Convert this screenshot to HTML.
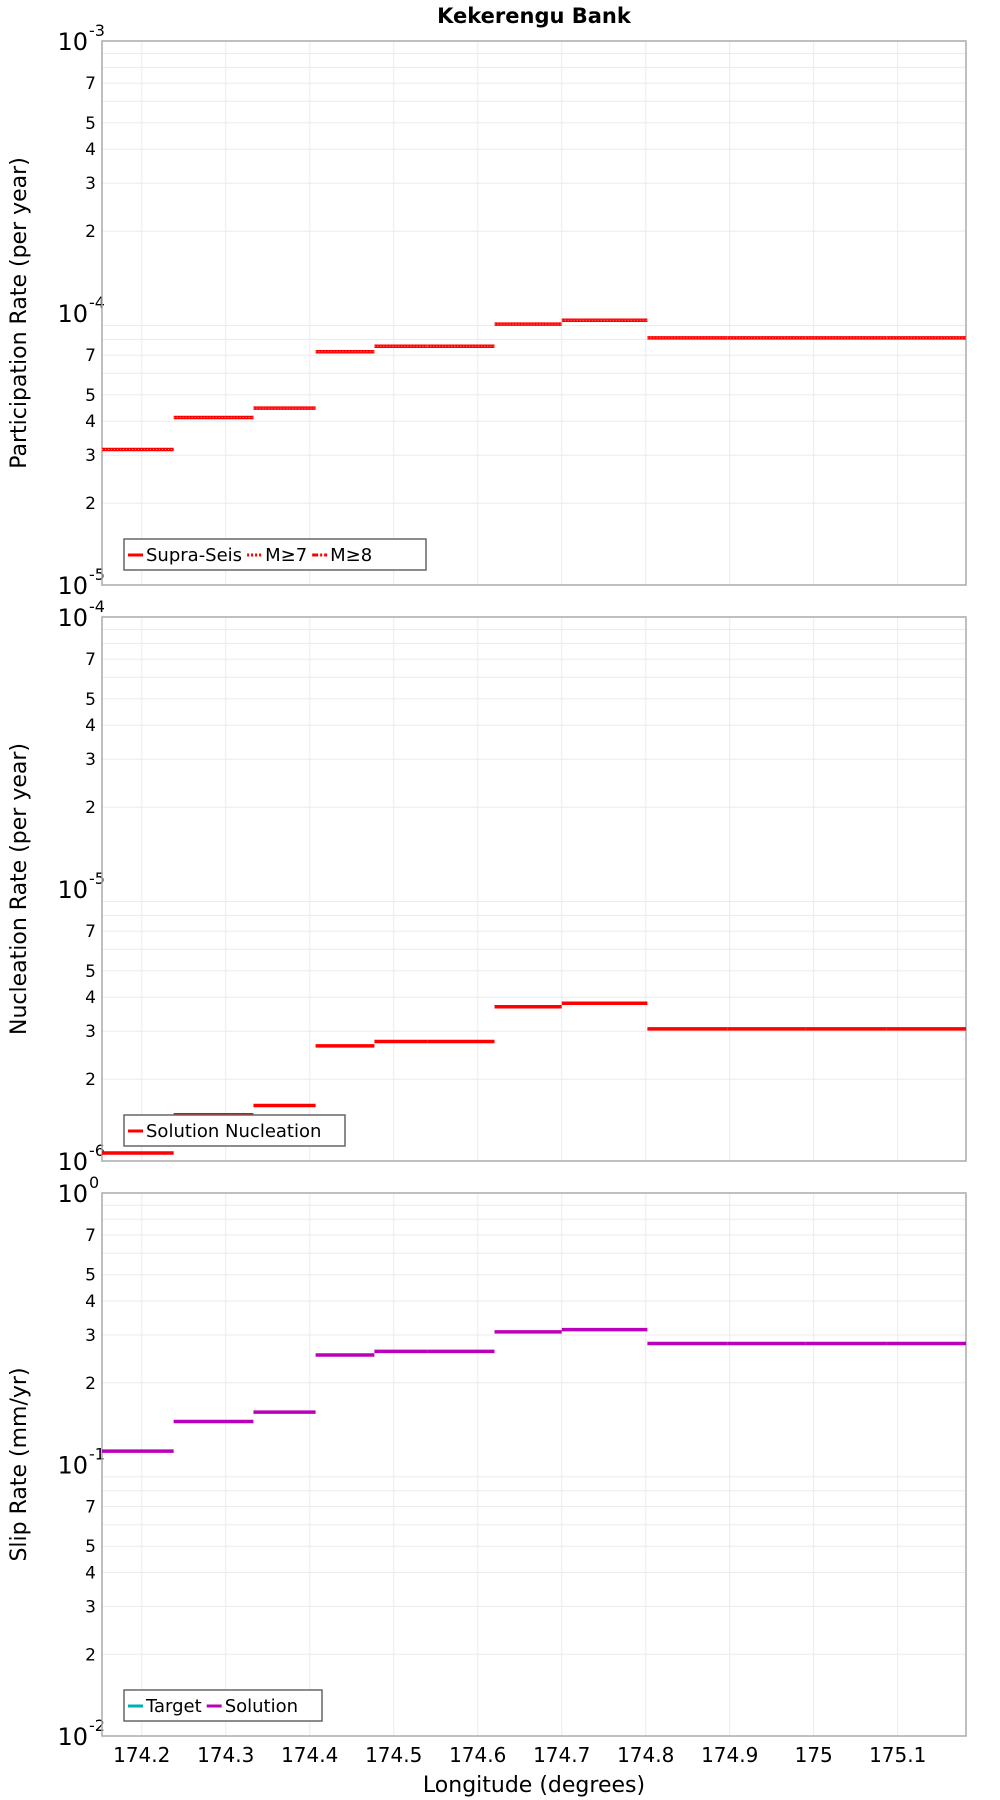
<!DOCTYPE html>
<html><head><meta charset="utf-8"><style>
html,body{margin:0;padding:0;background:#fff;}
svg{display:block;font-family:"DejaVu Sans","Liberation Sans",sans-serif;}
</style></head><body>
<svg id="chart" width="1000" height="1800" viewBox="0 0 1000 1800">
<text x="534" y="23" text-anchor="middle" font-size="21" font-weight="bold">Kekerengu Bank</text>
<g id="plots"></g>
<text x="534" y="1792" text-anchor="middle" font-size="22">Longitude (degrees)</text>
</svg>
<script>
// shared x data
const xTicks = [174.2,174.3,174.4,174.5,174.6,174.7,174.8,174.9,175,175.1];
const xTickLabels = ["174.2","174.3","174.4","174.5","174.6","174.7","174.8","174.9","175","175.1"];
const segStarts = [174.15,174.238,174.333,174.407,174.477,174.54,174.62,174.70,174.802,174.897,174.99,175.087];
const segEnds   = [174.238,174.333,174.407,174.477,174.54,174.62,174.70,174.802,174.897,174.99,175.087,175.19];
// panel values
const partRates = [3.15e-5,4.13e-5,4.47e-5,7.2e-5,7.55e-5,7.55e-5,9.1e-5,9.4e-5,8.1e-5,8.1e-5,8.1e-5,8.1e-5];
const nuclRates = [1.07e-6,1.48e-6,1.6e-6,2.65e-6,2.75e-6,2.75e-6,3.69e-6,3.8e-6,3.06e-6,3.06e-6,3.06e-6,3.06e-6];
const slipRates = [0.112,0.144,0.156,0.253,0.261,0.261,0.308,0.314,0.279,0.279,0.279,0.279];
const minorLabels = [2,3,4,5,7];

const NS="http://www.w3.org/2000/svg";
const L=102,R=966,X0=174.1527,X1=175.1813;
function xs(v){return L+(v-X0)/(X1-X0)*(R-L);}
function mk(tag,attrs,parent){const e=document.createElementNS(NS,tag);for(const k in attrs)e.setAttribute(k,attrs[k]);parent.appendChild(e);return e;}
const root=document.getElementById('plots');

const panels=[
 {name:'participation',top:41,bot:585,dmax:-3,dmin:-5,title:'Participation Rate (per year)',vals:partRates,color:'#ff0000',dots:true,
  legend:[{t:'Supra-Seis',c:'#ff0000',d:''},{t:'M≥7',c:'#ff0000',d:'2,2'},{t:'M≥8',c:'#ff0000',d:'6,2,2,2'}],lw:302},
 {name:'nucleation',top:617,bot:1161,dmax:-4,dmin:-6,title:'Nucleation Rate (per year)',vals:nuclRates,color:'#ff0000',dots:false,
  legend:[{t:'Solution Nucleation',c:'#ff0000',d:''}],lw:221},
 {name:'slip',top:1193,bot:1736,dmax:0,dmin:-2,title:'Slip Rate (mm/yr)',vals:slipRates,color:'#bb00bb',dots:false,
  legend:[{t:'Target',c:'#00b0b0',d:''},{t:'Solution',c:'#bb00bb',d:''}],lw:198}
];

panels.forEach(p=>{
 const g=mk('g',{},root);
 
 
 const ys=v=>p.top+(p.dmax-Math.log10(v))/(p.dmax-p.dmin)*(p.bot-p.top);
 for(let d=p.dmin;d<p.dmax;d++){
  for(let m=1;m<10;m++){
   const v=m*Math.pow(10,d);const y=ys(v);
   if(m>1){const gl=mk('line',{x1:L,x2:R,y1:y,y2:y,stroke:'#ebebeb','stroke-width':1},g);
    }
   if(minorLabels.includes(m)){const t=mk('text',{x:96,y:y+6,'text-anchor':'end','font-size':17},g);t.textContent=m;
    }
  }
 }
 xTicks.forEach(v=>{const gl=mk('line',{x1:xs(v),x2:xs(v),y1:p.top,y2:p.bot,stroke:'#ebebeb','stroke-width':1},g);
  });
 for(let d=p.dmin;d<=p.dmax;d++){
  const y=ys(Math.pow(10,d));
  const t=mk('text',{x:88,y:y+9,'text-anchor':'end','font-size':24},g);t.textContent='10';
  
  const s=mk('text',{x:89,y:y-5,'font-size':16},g);s.textContent=String(d);
  
 }
 const fr=mk('rect',{x:L,y:p.top,width:R-L,height:p.bot-p.top,fill:'none',stroke:'#aaaaaa','stroke-width':1.5},g);
 
 const cy=(p.top+p.bot)/2;
 const yt=mk('text',{x:0,y:0,transform:`translate(26,${cy}) rotate(-90)`,'text-anchor':'middle','font-size':22},g);
 yt.textContent=p.title;
 p.vals.forEach((v,i)=>{
  const x1=Math.max(L,xs(segStarts[i])),x2=Math.min(R,xs(segEnds[i]));
  const ln=mk('line',{x1:x1,x2:x2,y1:ys(v),y2:ys(v),stroke:p.color,'stroke-width':3.5},g);
  
  if(p.dots){
   const dl=mk('line',{x1:x1,x2:x2,y1:ys(v),y2:ys(v),stroke:'#ff9999','stroke-width':1,'stroke-dasharray':'1,2'},g);
   
  }
 });
 const ly=p.bot-46;
 const lg=mk('g',{},g);
 const box=mk('rect',{x:124,y:ly,width:p.lw,height:31,fill:'#fff',stroke:'#666','stroke-width':1.5},lg);
 
 let x=128;
 p.legend.forEach(e=>{
  const sw=mk('line',{x1:x,x2:x+15,y1:ly+16,y2:ly+16,stroke:e.c,'stroke-width':3,'stroke-dasharray':e.d||'none'},lg);
  
  const t=mk('text',{x:x+18,y:ly+22,'font-size':18},lg);t.textContent=e.t;
  
  x+=18+t.getComputedTextLength()+5;
 });
});
xTicks.forEach((v,i)=>{const t=mk('text',{x:xs(v),y:1762,'text-anchor':'middle','font-size':20},root);t.textContent=xTickLabels[i];
 });
</script>
</body></html>
